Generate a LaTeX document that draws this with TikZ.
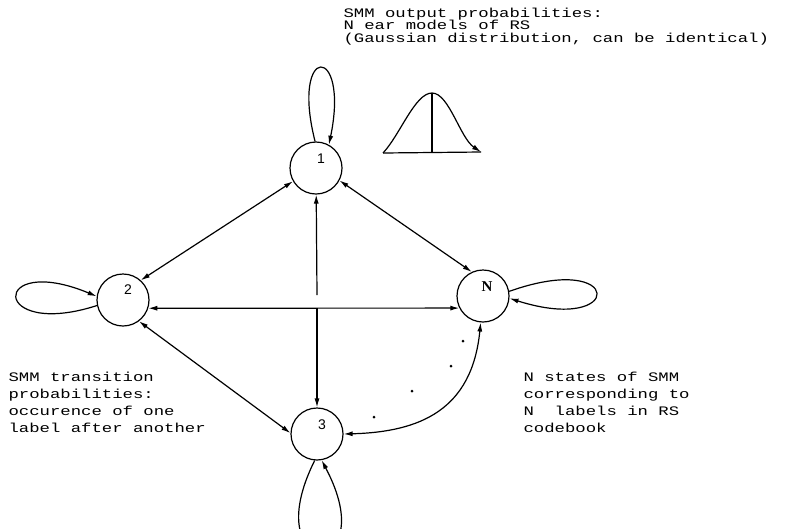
\documentclass[tikz,border=0pt]{standalone}
\usepackage{fontspec}
\newfontfamily\typew[FakeStretch=1.33]{Liberation Mono}
\newfontfamily\digitfont{Liberation Sans}
\newfontfamily\nfont{Liberation Serif}
\usetikzlibrary{arrows.meta}
\begin{document}
\begin{tikzpicture}[x=1pt,y=-1pt,
  line width=1.2pt,
  state/.style={draw,circle,minimum size=52pt,inner sep=0pt},
  arr/.style={-{Latex[length=9pt,width=5pt]}},
  biarr/.style={{Latex[length=9pt,width=5pt]}-{Latex[length=9pt,width=5pt]}},
  txt/.style={font=\typew\fontsize{13}{16.8}\selectfont,align=left,inner sep=0pt,anchor=west},
  dig/.style={font=\digitfont\fontsize{14}{14}\selectfont},
  nlab/.style={font=\nfont\bfseries\fontsize{15}{15}\selectfont}]
\useasboundingbox (0,0) rectangle (786,528);
\clip (0,0) rectangle (786,528);

% states
\node[state,label={[dig,xshift=5pt,yshift=9pt]center:1}] (n1) at (316,168) {};
\node[state,label={[dig,xshift=5pt,yshift=10pt]center:2}] (n2) at (123,300) {};
\node[state,label={[nlab,xshift=4pt,yshift=9pt]center:N}] (nN) at (483,296) {};
\node[state,label={[dig,xshift=5pt,yshift=9pt]center:3}] (n3) at (317,434) {};

% self loops
\draw[arr] (n1.92) .. controls (290,43) and (350,43) .. (n1.61);
\draw[arr] (n2.192) .. controls (-10,340) and (-10,252) .. (n2.172);
\draw[arr] (nN.10) .. controls (625,250) and (625,335) .. (nN.-5);
\draw[arr] (n3.-95) .. controls (255,580) and (385,580) .. (n3.-80);

% transitions
\draw[biarr] (n1.210) -- (n2.48);
\draw[biarr] (n1.-28) -- (nN.115);
\draw[biarr] (n2.-53) -- (n3.178);
\draw[biarr] (n2.-18) -- (nN.207);
\coordinate (v1) at (317,295);
\coordinate (v2) at (317,308);
\draw[arr] (v1) -- (n1);
\draw[arr] (v2) -- (n3);
\draw[biarr] (n3.east) .. controls (420,432) and (472,410) .. (nN.-95);

% dots
\foreach \p in {(463,341),(451,366),(412,391),(374,417)}
  \fill \p circle (1.5pt);

% gaussian
\coordinate (gl) at (383,153);
\coordinate (gp) at (432,93);
\coordinate (gr) at (481,152);
\coordinate (gb) at (432,153);
\draw (gl) -- (gr);
\draw (gp) -- (gb);
\draw[arr] (gl) .. controls (400,135) and (415,93) .. (gp) .. controls (449,93) and (460,138) .. (gr);

% texts
\node[txt,font=\typew\fontsize{13}{12.7}\selectfont] (t1) at (343,26.5) {SMM output probabilities:\\N ear models of RS\\(Gaussian distribution, can be identical)};
\node[txt] (t2) at (8,402.5) {SMM transition\\probabilities:\\occurence of one\\label after another};
\node[txt] (t3) at (523,402.5) {N states of SMM\\corresponding to\\N~~labels in RS\\codebook};
\end{tikzpicture}
\end{document}
